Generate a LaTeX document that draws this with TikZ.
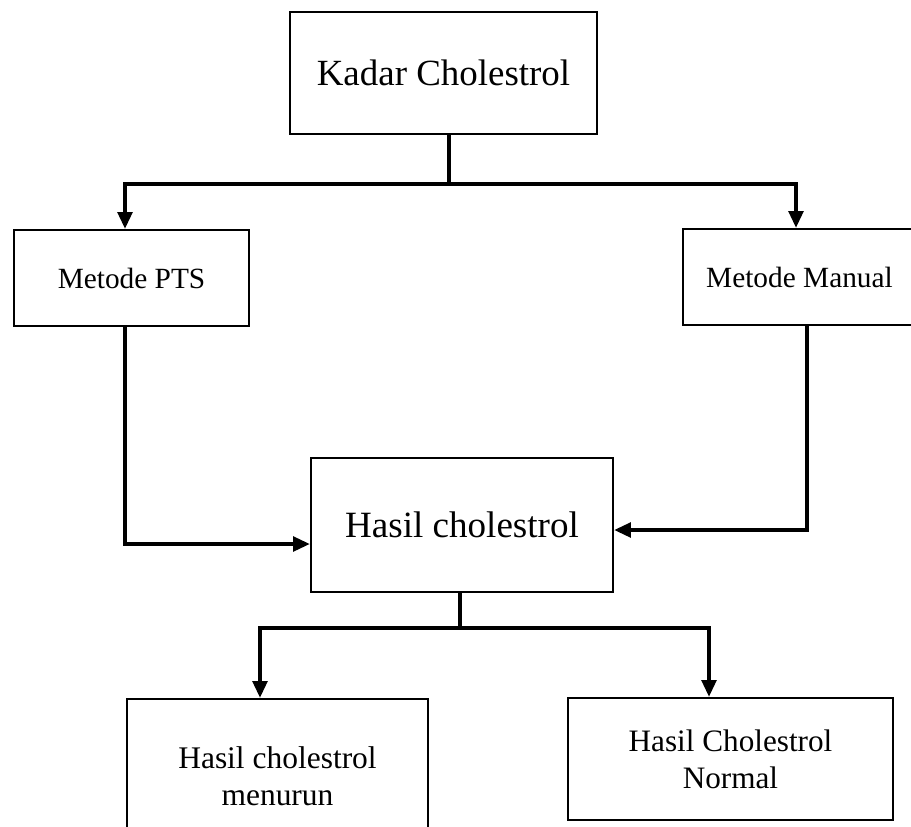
\documentclass[tikz,border=0pt]{standalone}
\usepackage{fontspec}
\setmainfont{Liberation Serif}
\usetikzlibrary{arrows.meta,calc}

\begin{document}
\begin{tikzpicture}[x=0.75pt,y=-0.75pt,
  box/.style={draw,line width=1.8pt,inner sep=0pt,align=center},
  size/.style 2 args={minimum width=#1*0.75pt,minimum height=#2*0.75pt},
  conn/.style={line width=2.5pt},
  arr/.style={conn,-{Triangle[length=12.5pt,width=11pt]}}]
\useasboundingbox (0,0) rectangle (911,826);
\clip (0,0) rectangle (911,826);

% boxes
\node[box,size={307}{122},font=\fontsize{27.7}{30}\selectfont] (kadar) at (443.5,73) {Kadar Cholestrol};
\node[box,size={235}{96},font=\fontsize{22}{24}\selectfont] (pts) at (131.5,278) {Metode PTS};
\node[box,size={233}{96},font=\fontsize{22}{24}\selectfont] (manual) at (799.5,277) {Metode Manual};
\node[box,size={302}{134},font=\fontsize{27.8}{30}\selectfont] (hasil) at (462,525) {Hasil cholestrol};
\node[box,size={301}{154},font=\fontsize{23.6}{28}\selectfont] (turun) at (277.5,776) {Hasil cholestrol\\menurun};
\node[box,size={325}{122},font=\fontsize{23.4}{28}\selectfont] (normal) at (730.5,759) {Hasil Cholestrol\\Normal};

% bends
\coordinate (split1) at (449,184);
\coordinate (split2) at (460,628);

\draw[conn] ([xshift=5.5*0.75pt]kadar.south) -- (split1);
\draw[arr] (split1) -| ([xshift=-6.5*0.75pt]pts.north);
\draw[arr] (split1) -| ([xshift=-3.5*0.75pt]manual.north);

\draw[arr] ([xshift=-6.5*0.75pt]pts.south) |- ([yshift=-19*0.75pt]hasil.west);
\draw[arr] ([xshift=7.5*0.75pt]manual.south) |- ([yshift=-5*0.75pt]hasil.east);

\draw[conn] ([xshift=-2*0.75pt]hasil.south) -- (split2);
\draw[arr] (split2) -| ([xshift=-17.5*0.75pt]turun.north);
\draw[arr] (split2) -| ([xshift=-21.5*0.75pt]normal.north);

\end{tikzpicture}
\end{document}
